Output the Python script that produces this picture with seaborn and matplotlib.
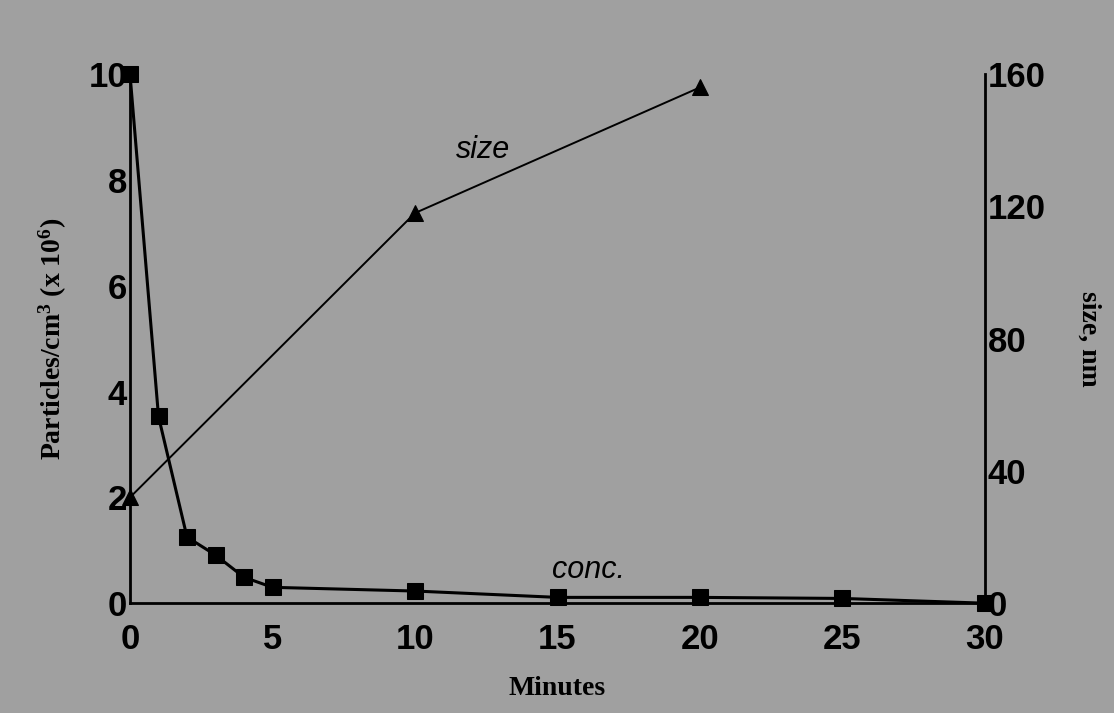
import matplotlib
matplotlib.use("Agg")
import matplotlib.pyplot as plt
import seaborn as sns
import pandas as pd

# Data
conc_minutes = [0, 1, 2, 3, 4, 5, 10, 15, 20, 25, 30]
conc_values = [10.0, 3.53, 1.25, 0.91, 0.49, 0.30, 0.23, 0.11, 0.11, 0.09, 0.0]
size_minutes = [0, 10, 20]
size_values = [32, 118, 156]
x_ticks = [0, 5, 10, 15, 20, 25, 30]
left_ticks = [0, 2, 4, 6, 8, 10]
right_ticks = [0, 40, 80, 120, 160]

sns.set_style("white")
plt.rcParams['font.family'] = ['Liberation Sans', 'DejaVu Sans']
plt.rcParams['mathtext.default'] = 'regular'
plt.rcParams['text.color'] = 'black'
plt.rcParams['axes.labelcolor'] = 'black'
plt.rcParams['xtick.color'] = 'black'
plt.rcParams['ytick.color'] = 'black'

bg = '#a0a0a0'
fig = plt.figure(figsize=(11.14, 7.13), dpi=100, facecolor=bg)
ax = fig.add_axes([0.1167, 0.154, 0.7675, 0.742])
ax.set_facecolor(bg)
ax2 = ax.twinx()

df_c = pd.DataFrame({"Minutes": conc_minutes, "conc": conc_values})
df_s = pd.DataFrame({"Minutes": size_minutes, "size": size_values})

sns.lineplot(data=df_c, x="Minutes", y="conc", ax=ax, color='black', linewidth=2.2,
             marker='s', markersize=11, markeredgecolor='black', clip_on=False)
sns.lineplot(data=df_s, x="Minutes", y="size", ax=ax2, color='black', linewidth=1.4,
             marker='^', markersize=11, markeredgecolor='black', clip_on=False)

ax.set_xlim(0, 30)
ax.set_ylim(0, 10)
ax2.set_ylim(0, 160)
ax.set_xticks(x_ticks)
ax.set_yticks(left_ticks)
ax2.set_yticks(right_ticks)

tick_font = dict(fontsize=25, fontweight='bold', color='black')
ax.set_xticklabels([str(t) for t in x_ticks], **tick_font)
ax.set_yticklabels([str(t) for t in left_ticks], **tick_font)
ax2.set_yticklabels([str(t) for t in right_ticks], **tick_font)

for a in (ax, ax2):
    a.tick_params(length=0, pad=2)
    for s in a.spines.values():
        s.set_linewidth(2)
        s.set_color('black')
    a.spines['top'].set_visible(False)
ax.tick_params(axis='x', pad=14)

ax.spines['right'].set_visible(False)
ax2.spines['left'].set_visible(False)
ax2.spines['bottom'].set_visible(False)

serif = ['Liberation Serif', 'DejaVu Serif']
ax.set_xlabel("Minutes", fontsize=20, fontweight='bold', family=serif, labelpad=15, color='black')
ax.set_ylabel("Particles/cm$^3$ (x 10$^6$)", fontsize=20, fontweight='bold', family=serif, labelpad=14, color='black')
ax2.set_ylabel("size, nm", fontsize=20, fontweight='bold', family=serif, rotation=270, labelpad=40, color='black')

ax2.text(12.4, 137, "size", fontsize=22, style='italic', ha='center', va='center', color='black')
ax.text(16.1, 0.62, "conc.", fontsize=22, style='italic', ha='center', va='center', color='black')

fig.savefig("out.png", dpi=100, facecolor=bg)
